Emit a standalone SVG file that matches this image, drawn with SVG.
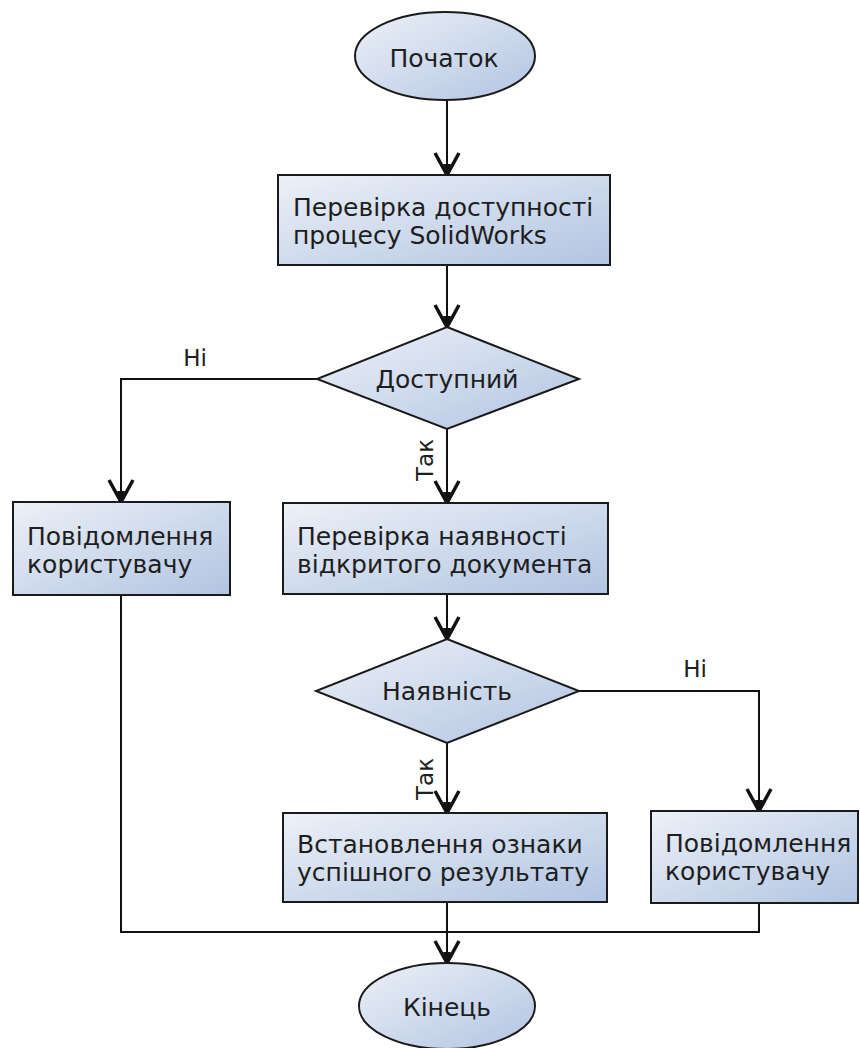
<svg xmlns="http://www.w3.org/2000/svg" width="860" height="1048" viewBox="0 0 860 1048">
<style>
.node{stroke:#1a1a1a;stroke-width:2;fill:url(#g)}
.t{font-family:"DejaVu Sans","Noto Sans",sans-serif;font-size:25px;fill:#1e1e1e}
.c{text-anchor:middle}
.lbl{font-family:"DejaVu Sans","Noto Sans",sans-serif;font-size:23px;fill:#1e1e1e}
.conn{fill:none;stroke:#111;stroke-width:2}
</style>
<defs>
<linearGradient id="g" x1="0" y1="0" x2="1" y2="1">
<stop offset="0" stop-color="#edf1f8"/>
<stop offset="1" stop-color="#b1c4e1"/>
</linearGradient>
<marker id="a" markerUnits="userSpaceOnUse" viewBox="0 0 30 30" markerWidth="30" markerHeight="30" refX="27" refY="15" orient="auto">
<path d="M5,3 L27,15 L5,27" fill="none" stroke="#111" stroke-width="3.5" stroke-linejoin="miter"/>
<path d="M16,11 L27,15 L16,19 Z" fill="#111"/>
</marker>
</defs>
<g id="connectors">
<path class="conn" d="M447,100 V175" marker-end="url(#a)"/>
<path class="conn" d="M447,265 V327" marker-end="url(#a)"/>
<path class="conn" d="M317,379 H121 V502" marker-end="url(#a)"/>
<path class="conn" d="M447,429 V503" marker-end="url(#a)"/>
<path class="conn" d="M447,594 V639" marker-end="url(#a)"/>
<path class="conn" d="M447,743 V813" marker-end="url(#a)"/>
<path class="conn" d="M579,691 H759 V811" marker-end="url(#a)"/>
<path class="conn" d="M121,595 V932 H447"/>
<path class="conn" d="M759,903 V932 H447"/>
<path class="conn" d="M447,902 V963" marker-end="url(#a)"/>
<text class="lbl c" x="195" y="366">Ні</text>
<text class="lbl c" x="695" y="677">Ні</text>
<text class="lbl c" transform="translate(433,460) rotate(-90)">Так</text>
<text class="lbl c" transform="translate(433,779) rotate(-90)">Так</text>
</g>
<g id="start">
<ellipse class="node" cx="445" cy="56" rx="90" ry="44"/>
<text class="t c" x="444" y="67">Початок</text>
</g>
<g id="check-process">
<rect class="node" x="278" y="175" width="332" height="90"/>
<text class="t" x="293" y="216">Перевірка доступності</text>
<text class="t" x="293" y="244">процесу SolidWorks</text>
</g>
<g id="decision-available">
<polygon class="node" points="447,327 579,379 447,429 317,379"/>
<text class="t c" x="447" y="388">Доступний</text>
</g>
<g id="msg-left">
<rect class="node" x="13" y="502" width="217" height="93"/>
<text class="t" x="27" y="545">Повідомлення</text>
<text class="t" x="27" y="573">користувачу</text>
</g>
<g id="check-doc">
<rect class="node" x="283" y="503" width="325" height="91"/>
<text class="t" x="297" y="545">Перевірка наявності</text>
<text class="t" x="297" y="573">відкритого документа</text>
</g>
<g id="decision-presence">
<polygon class="node" points="447,639 579,691 447,743 316,691"/>
<text class="t c" x="447" y="700">Наявність</text>
</g>
<g id="set-result">
<rect class="node" x="283" y="813" width="324" height="89"/>
<text class="t" x="297" y="853">Встановлення ознаки</text>
<text class="t" x="297" y="881">успішного результату</text>
</g>
<g id="msg-right">
<rect class="node" x="651" y="811" width="207" height="92"/>
<text class="t" x="665" y="852">Повідомлення</text>
<text class="t" x="665" y="880">користувачу</text>
</g>
<g id="end">
<ellipse class="node" cx="447" cy="1006" rx="88" ry="43"/>
<text class="t c" x="447" y="1016">Кінець</text>
</g>
</svg>
